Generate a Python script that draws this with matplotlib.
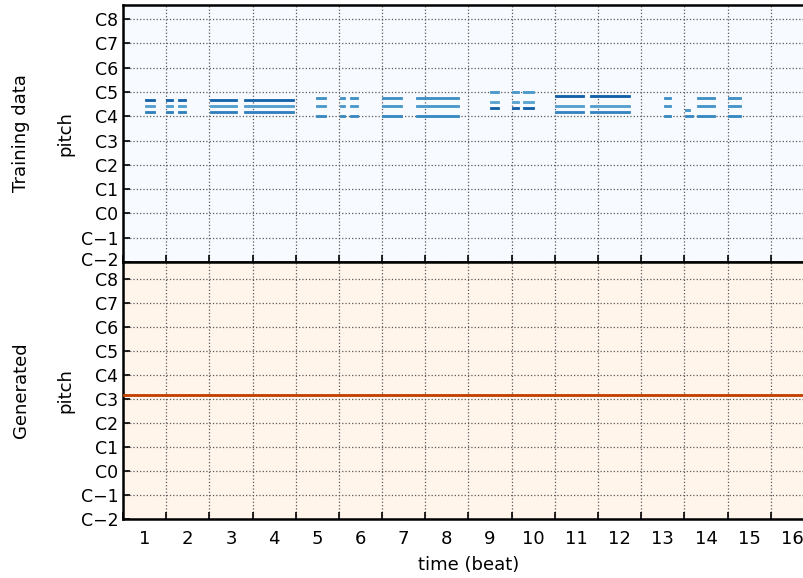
import matplotlib
matplotlib.use("Agg")
from matplotlib import pyplot as plt
import matplotlib.ticker as mticker
import matplotlib.transforms as mtransforms

# pitch index 0 is labelled C-2, so C4 = 72
pitch_tick_labels = ['C\u22122', 'C\u22121', 'C0', 'C1', 'C2', 'C3', 'C4', 'C5', 'C6', 'C7', 'C8']
beat_labels = [str(i) for i in range(1, 17)]

# training data: chord groups, each played over a few segments (times in beats)
chord_pitches = [[74, 77, 80], [72, 77, 81], [76, 79, 84], [74, 77, 82], [72, 77, 81]]
chord_velocities = [[88, 72, 102], [84, 76, 80], [104, 70, 76], [86, 72, 104], [84, 78, 80]]
chord_segments = [
    [(0.50, 0.73), (1.00, 1.15), (1.27, 1.46), (2.01, 2.63), (2.81, 3.97)],
    [(4.46, 4.71), (5.02, 5.14), (5.25, 5.45), (6.00, 6.47), (6.79, 7.79)],
    [(8.50, 8.71), (9.00, 9.17), (9.27, 9.52)],
    [(10.01, 10.67), (10.81, 11.75)],
    [(12.52, 12.70), (13.30, 13.70), (14.00, 14.31)],
]
# odd little notes at the start of beat 14
extra_pitch = [75, 72]
extra_start = [13.01, 13.01]
extra_end = [13.13, 13.20]
extra_velocity = [78, 84]

# generated: one held note for all 16 beats
gen_pitch = [62]
gen_start = [0.0]
gen_end = [16.0]
gen_velocity = [102]


def pianoroll(ax, starts, ends, pitches, velocities, cmap, top=127):
    ax.set_facecolor(cmap(0.0))
    colors = [cmap(v / 127.0) for v in velocities]
    widths = [e - s for s, e in zip(starts, ends)]
    ax.barh(pitches, widths, left=starts, height=1.0, color=colors,
            edgecolor=colors, linewidth=0.6, zorder=3)
    ax.set_xlim(0, 16)
    ax.set_ylim(0, top)
    ax.set_yticks(range(0, 121, 12))
    ax.set_yticklabels(pitch_tick_labels)
    ax.xaxis.set_major_locator(mticker.FixedLocator(range(0, 17)))
    ax.xaxis.set_minor_locator(mticker.FixedLocator([i + 0.5 for i in range(16)]))
    ax.xaxis.set_major_formatter(mticker.NullFormatter())
    ax.tick_params(which='major', direction='in', length=5, width=1.2, labelsize=12.5)
    ax.tick_params(axis='x', which='minor', length=0, labelsize=13, pad=8)
    ax.grid(which='major', color='0.35', linestyle=':', linewidth=0.9)
    for sp in ax.spines.values():
        sp.set_linewidth(1.8)


fig = plt.figure(figsize=(8.04, 5.78), dpi=100)
W, H = 804.0, 578.0
ax1 = fig.add_axes([123 / W, (H - 262) / H, 691 / W, 257 / H])
ax2 = fig.add_axes([123 / W, (H - 519) / H, 691 / W, 257 / H])

t_start, t_end, t_pitch, t_vel = [], [], [], []
for pitches, vels, segs in zip(chord_pitches, chord_velocities, chord_segments):
    for s, e in segs:
        for p, v in zip(pitches, vels):
            t_start.append(s)
            t_end.append(e)
            t_pitch.append(p)
            t_vel.append(v)
t_start += extra_start
t_end += extra_end
t_pitch += extra_pitch
t_vel += extra_velocity

pianoroll(ax1, t_start, t_end, t_pitch, t_vel, plt.get_cmap('Blues'))
pianoroll(ax2, gen_start, gen_end, gen_pitch, gen_velocity, plt.get_cmap('Oranges'), top=128.5)

ax1.xaxis.set_minor_formatter(mticker.NullFormatter())
ax2.xaxis.set_minor_formatter(mticker.FixedFormatter(beat_labels))
ax2.set_xlabel('time (beat)', fontsize=13, labelpad=6)

# nudge the top roll's C-2 up a little so it clears the C8 below it
lbl = ax1.yaxis.get_majorticklabels()[0]
lbl.set_transform(lbl.get_transform() + mtransforms.ScaledTranslation(0, 2.5 / 72, fig.dpi_scale_trans))

for ax, name in [(ax1, 'Training data'), (ax2, 'Generated')]:
    ax.text(-0.084, 0.5, 'pitch', transform=ax.transAxes, rotation=90,
            ha='center', va='center', fontsize=13)
    ax.text(-0.148, 0.5, name, transform=ax.transAxes, rotation=90,
            ha='center', va='center', fontsize=13)

fig.savefig('out.png', dpi=100)
